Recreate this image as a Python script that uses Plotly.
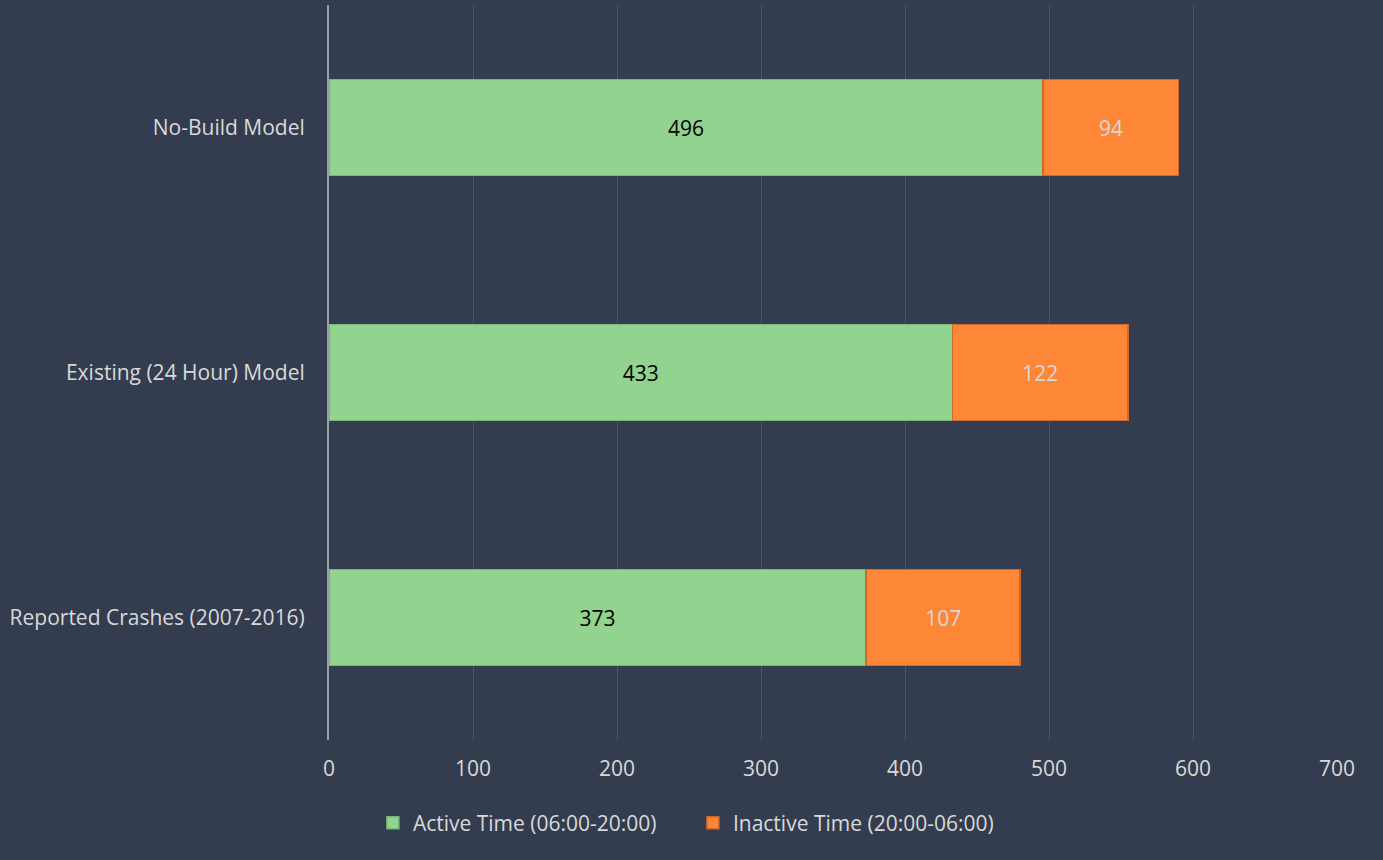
import plotly.graph_objects as go

categories = ["Reported Crashes (2007-2016)", "Existing (24 Hour) Model", "No-Build Model"]
active = [373, 433, 496]
inactive = [107, 122, 94]
series_names = ["Active Time (06:00-20:00)", "Inactive Time (20:00-06:00)"]
x_ticks = [0, 100, 200, 300, 400, 500, 600, 700]

BG = "#333D4F"
FONT = "Open Sans"
FS = 21

fig = go.Figure()
fig.add_trace(go.Bar(
    y=categories, x=active, orientation="h", name=series_names[0],
    marker=dict(color="#92D390", line=dict(color="#78B876", width=1.5)),
    text=active, textposition="inside", insidetextanchor="middle",
    textangle=0, constraintext="none",
    textfont=dict(color="#000000", size=FS, family=FONT), width=0.39,
))
fig.add_trace(go.Bar(
    y=categories, x=inactive, orientation="h", name=series_names[1],
    marker=dict(color="#FD8637", line=dict(color="#D06A2A", width=1.5)),
    text=inactive, textposition="inside", insidetextanchor="middle",
    textangle=0, constraintext="none",
    textfont=dict(color="#D9D9D9", size=FS, family=FONT), width=0.39,
))

fig.update_layout(
    barmode="stack",
    width=1383, height=860,
    paper_bgcolor=BG, plot_bgcolor=BG,
    margin=dict(l=329, r=46, t=5, b=120, autoexpand=False),
    font=dict(family=FONT, size=FS, color="#D9D9D9"),
    xaxis=dict(range=[0, 700], tickvals=x_ticks, showgrid=True,
               gridcolor="#4C5668", gridwidth=1, zeroline=False,
               showline=False, ticks="", ticklabelstandoff=14, tickangle=0,
               automargin=False,
               tickfont=dict(size=FS, color="#D9D9D9")),
    yaxis=dict(showgrid=False, showline=True, linecolor="#9AA0A8", linewidth=2,
               ticks="", ticklabelstandoff=18, zeroline=False,
               range=[-0.5, 2.5], automargin=False,
               tickfont=dict(size=FS, color="#D9D9D9")),
    legend=dict(orientation="h", x=0.361, xanchor="center",
                y=-0.085, yanchor="top", entrywidth=275, entrywidthmode="pixels",
                font=dict(size=FS, color="#D9D9D9"), traceorder="normal",
                itemwidth=30, bgcolor="rgba(0,0,0,0)"),
)

fig.write_html("out.html")
